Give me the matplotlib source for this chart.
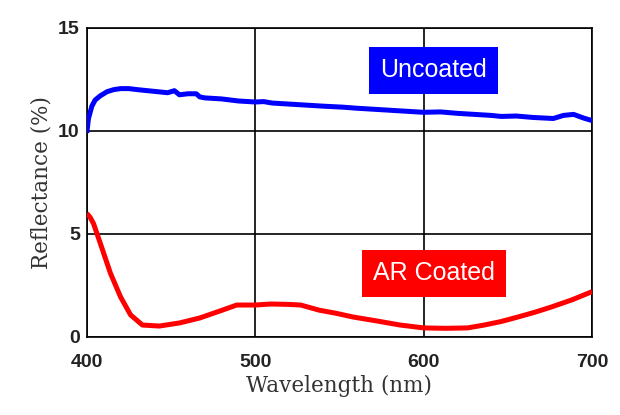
import numpy as np
import matplotlib.pyplot as plt

# wavelength (nm) / reflectance (%)
wl_unc = [400, 401, 403, 405, 408, 412, 416, 420, 425, 430, 436, 442, 448, 452, 455,
          460, 465, 467, 470, 480, 490, 500, 505, 510, 520, 530, 540, 552, 560,
          570, 580, 590, 600, 610, 620, 630, 640, 646, 655, 665, 677, 683, 689, 695, 700]
refl_unc = [9.9, 10.6, 11.2, 11.5, 11.7, 11.9, 12.0, 12.05, 12.05, 12.0, 11.95, 11.9, 11.85,
            11.95, 11.75, 11.8, 11.8, 11.65, 11.6, 11.55, 11.45, 11.4, 11.42, 11.35, 11.3,
            11.25, 11.2, 11.15, 11.1, 11.05, 11.0, 10.95, 10.9, 10.92, 10.85, 10.8, 10.75,
            10.7, 10.72, 10.65, 10.6, 10.75, 10.8, 10.62, 10.5]

wl_ar = [400, 402, 404, 408, 414, 420, 426, 433, 443, 455, 467, 479, 489, 500, 509,
         520, 527, 538, 548, 558, 572, 586, 600, 613, 626, 636, 646, 656, 666, 676,
         688, 700]
refl_ar = [6.0, 5.8, 5.5, 4.55, 3.1, 1.95, 1.07, 0.58, 0.53, 0.68, 0.92, 1.26, 1.55,
           1.55, 1.6, 1.58, 1.55, 1.3, 1.15, 0.97, 0.78, 0.58, 0.44, 0.42, 0.44, 0.58,
           0.75, 0.97, 1.2, 1.46, 1.8, 2.2]

xticks = [400, 500, 600, 700]
yticks = [0, 5, 10, 15]

fig = plt.figure(figsize=(6.2, 4.15), dpi=100)
ax = fig.add_axes([0.140, 0.188, 0.815, 0.745])

ax.plot(wl_unc, refl_unc, color='#0000ff', lw=3.6, solid_capstyle='butt', zorder=3)
ax.plot(wl_ar, refl_ar, color='#ff0000', lw=3.6, solid_capstyle='butt', zorder=3)

ax.set_xlim(400, 700)
ax.set_ylim(0, 15)
ax.set_xticks(xticks)
ax.set_yticks(yticks)
ax.grid(True, color='black', lw=1.2)
ax.set_axisbelow(True)
for s in ax.spines.values():
    s.set_linewidth(1.2)
ax.tick_params(length=0, labelsize=14, labelcolor='#222222')
ax.tick_params(axis='x', pad=12)
ax.tick_params(axis='y', pad=5)
for lab in ax.get_xticklabels() + ax.get_yticklabels():
    lab.set_fontfamily('Liberation Sans')
    lab.set_fontweight('bold')

ax.set_xlabel('Wavelength (nm)', family='DejaVu Serif', fontsize=15.5, color='#333333', labelpad=3)
ax.set_ylabel('Reflectance (%)', family='DejaVu Serif', fontsize=15.5, color='#333333', labelpad=4)

ax.text(606, 12.94, 'Uncoated', color='white', fontsize=18, family='Liberation Sans',
        ha='center', va='center', zorder=5,
        bbox=dict(boxstyle='square,pad=0.45', fc='#0000ff', ec='none'))
ax.text(606, 3.08, 'AR Coated', color='white', fontsize=18, family='Liberation Sans',
        ha='center', va='center', zorder=5,
        bbox=dict(boxstyle='square,pad=0.45', fc='#ff0000', ec='none'))

fig.savefig('out.png', dpi=100)
